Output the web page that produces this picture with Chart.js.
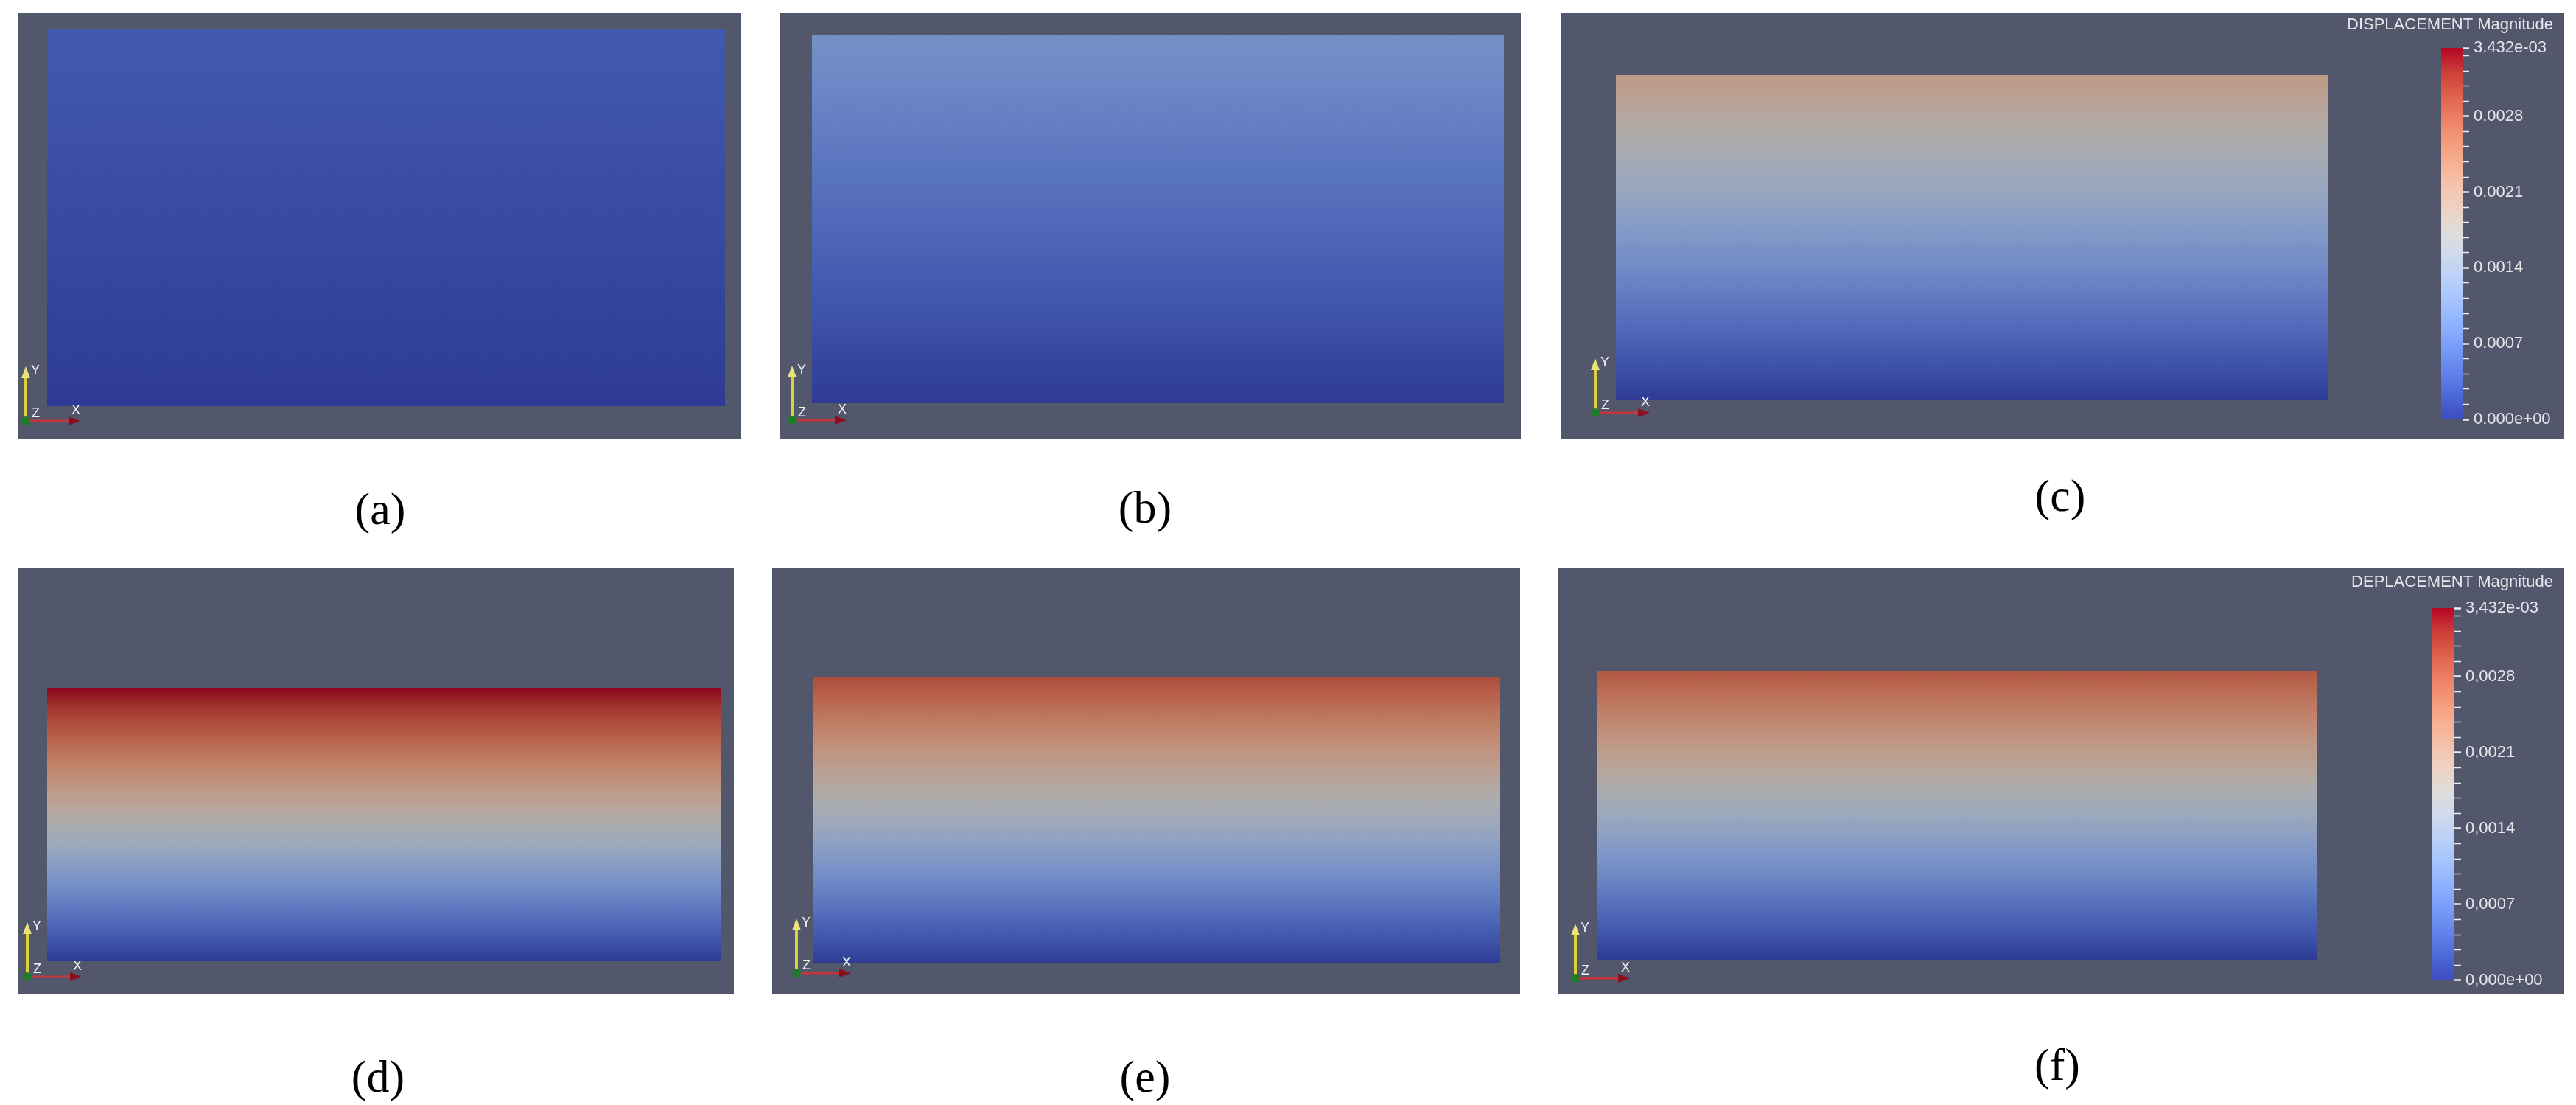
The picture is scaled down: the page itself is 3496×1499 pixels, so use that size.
<!DOCTYPE html>
<html lang="en">
<head>
<meta charset="UTF-8" />
<title>Displacement magnitude</title>
<script src="https://cdn.jsdelivr.net/npm/chart.js"></script>
<style>
  html, body { margin: 0; padding: 0; background: #fff; }
  body { position: relative; width: 3496px; height: 1499px; overflow: hidden; }
  .box { position: absolute; background: #53576c; }
  canvas { position: absolute; }
  .cap { position: absolute; transform: translate(-50%, -50%); font-family: 'Liberation Serif', 'Times New Roman', serif; font-size: 62px; line-height: 1; color: #000; white-space: nowrap; }
</style>
</head>
<body>
<script>
// ---- data ----
const panelLabels = ['(a)', '(b)', '(c)', '(d)', '(e)', '(f)'];
// displacement magnitude at the top face of the block, per stage
const topDisplacement = [0.00030, 0.00096, 0.00215, 0.003432, 0.00300, 0.00290];
const beamX = [0, 1];        // block length (normalised)
const beamY = [0, 1];        // block bottom / top (normalised)
const dispMax = 0.003432;    // colour scale range 0 .. max
const barTicks = [0, 0.0007, 0.0014, 0.0021, 0.0028, 0.003432];
const barLabelsEN = ['0.000e+00', '0.0007', '0.0014', '0.0021', '0.0028', '3.432e-03'];
const barLabelsFR = ['0,000e+00', '0,0007', '0,0014', '0,0021', '0,0028', '3,432e-03'];
const barTitles = ['DISPLACEMENT Magnitude', 'DEPLACEMENT Magnitude'];
const minorStep = 0.00014;

// ---- layout (pixels) ----
const panels = [
  { box: [25, 18, 1005, 596],   rect: [64, 39, 984, 551],     triad: [10, 25], cap: [516, 690] },
  { box: [1058, 18, 2064, 596], rect: [1102, 48, 2041, 547],  triad: [17, 26], cap: [1554, 688] },
  { box: [2118, 18, 3480, 596], rect: [2193, 102, 3160, 543], triad: [47, 36], cap: [2796, 672] },
  { box: [25, 770, 996, 1349],  rect: [64, 933, 978, 1303],   triad: [12, 24], cap: [513, 1460] },
  { box: [1048, 770, 2063, 1349], rect: [1103, 918, 2036, 1307], triad: [33, 29], cap: [1554, 1460] },
  { box: [2114, 770, 3480, 1349], rect: [2168, 910, 3144, 1302], triad: [24, 22], cap: [2792, 1444] }
];
const colorbars = [
  { canvas: [3170, 18, 3480, 596],  bar: [3313, 65, 3342, 569],   labels: barLabelsEN, title: barTitles[0], titleY: 34 },
  { canvas: [3157, 770, 3480, 1349], bar: [3300, 825, 3331, 1335], labels: barLabelsFR, title: barTitles[1], titleY: 790 }
];

// ParaView "Cool to Warm"
const coolWarm = [
  [59, 76, 192], [77, 104, 215], [98, 130, 234], [119, 154, 247], [141, 176, 254],
  [163, 194, 255], [184, 208, 249], [204, 217, 238], [221, 221, 221], [236, 211, 197],
  [245, 196, 173], [247, 177, 148], [244, 154, 123], [236, 127, 99], [222, 96, 77],
  [203, 62, 56], [180, 4, 38]
];
const surfaceShade = 0.78;
const legendFont = '"Liberation Sans", Arial, sans-serif';

function cmap(s, shade) {
  s = Math.max(0, Math.min(1, s));
  const f = s * (coolWarm.length - 1);
  const i = Math.min(coolWarm.length - 2, Math.floor(f));
  const t = f - i;
  const c = coolWarm[i].map((v, k) => (v + (coolWarm[i + 1][k] - v) * t) * shade);
  return `rgb(${Math.round(c[0])},${Math.round(c[1])},${Math.round(c[2])})`;
}

function addCanvas(l, t, r, b) {
  const cv = document.createElement('canvas');
  cv.width = r - l; cv.height = b - t;
  cv.style.left = l + 'px'; cv.style.top = t + 'px';
  document.body.appendChild(cv);
  return cv;
}

// small XYZ orientation triad in the corner of each view
const triadPlugin = {
  id: 'triad',
  afterDraw(chart, args, opts) {
    const ctx = chart.ctx;
    const ox = opts.dx, oy = chart.height - opts.dy;
    ctx.save();
    ctx.lineCap = 'round';
    ctx.strokeStyle = '#d9d23a'; ctx.lineWidth = 4;
    ctx.beginPath(); ctx.moveTo(ox, oy); ctx.lineTo(ox, oy - 62); ctx.stroke();
    ctx.fillStyle = '#e8e47a';
    ctx.beginPath(); ctx.moveTo(ox - 6, oy - 58); ctx.lineTo(ox + 6, oy - 58); ctx.lineTo(ox, oy - 74); ctx.closePath(); ctx.fill();
    ctx.strokeStyle = '#c8343c'; ctx.lineWidth = 3;
    ctx.beginPath(); ctx.moveTo(ox, oy); ctx.lineTo(ox + 62, oy); ctx.stroke();
    ctx.fillStyle = '#8a1020';
    ctx.beginPath(); ctx.moveTo(ox + 58, oy - 6); ctx.lineTo(ox + 58, oy + 6); ctx.lineTo(ox + 74, oy); ctx.closePath(); ctx.fill();
    ctx.fillStyle = '#1f7a2a';
    ctx.beginPath(); ctx.arc(ox, oy, 6, 0, Math.PI * 2); ctx.fill();
    ctx.fillStyle = '#f4f4f4';
    ctx.font = '18px "Liberation Sans", Arial, sans-serif';
    ctx.textBaseline = 'middle';
    ctx.fillText('Y', ox + 7, oy - 68);
    ctx.fillText('Z', ox + 8, oy - 10);
    ctx.fillText('X', ox + 62, oy - 14);
    ctx.restore();
  }
};

// legend title, right-aligned above the colour bar
const barTitlePlugin = {
  id: 'barTitle',
  afterDraw(chart, args, opts) {
    const ctx = chart.ctx;
    ctx.save();
    ctx.fillStyle = '#e6e6ea';
    ctx.font = `${opts.size}px ${legendFont}`;
    ctx.textAlign = 'right';
    ctx.textBaseline = 'middle';
    ctx.fillText(opts.text, chart.width - opts.right, opts.y);
    ctx.restore();
  }
};

// ---- the six deformed-block views ----
panels.forEach((p, i) => {
  const [bl, bt, br, bb] = p.box;
  const [rl, rt, rr, rb] = p.rect;
  const box = document.createElement('div');
  box.className = 'box';
  box.style.left = bl + 'px'; box.style.top = bt + 'px';
  box.style.width = (br - bl) + 'px'; box.style.height = (bb - bt) + 'px';
  document.body.appendChild(box);

  // camera: scale window so that the block lands on its rectangle
  const ux = (beamX[1] - beamX[0]) / (rr - rl);
  const uy = (beamY[1] - beamY[0]) / (rb - rt);
  const xMin = beamX[0] - (rl - bl) * ux, xMax = beamX[1] + (br - rr) * ux;
  const yMin = beamY[0] - (bb - rb) * uy, yMax = beamY[1] + (rt - bt) * uy;

  const cv = addCanvas(bl, bt, br, bb);
  new Chart(cv.getContext('2d'), {
    type: 'line',
    data: {
      datasets: [{
        data: beamX.map(x => ({ x, y: beamY[1] })),
        fill: { value: beamY[0] },
        pointRadius: 0,
        borderWidth: 0,
        borderColor: 'rgba(0,0,0,0)',
        tension: 0,
        backgroundColor: (c) => {
          const { chart } = c;
          if (!chart.chartArea) return 'rgba(0,0,0,0)';
          const y0 = chart.scales.y.getPixelForValue(beamY[0]);
          const y1 = chart.scales.y.getPixelForValue(beamY[1]);
          const g = chart.ctx.createLinearGradient(0, y0, 0, y1);
          for (let k = 0; k <= 16; k++) {
            const v = topDisplacement[i] * k / 16;
            g.addColorStop(k / 16, cmap(v / dispMax, surfaceShade));
          }
          return g;
        }
      }]
    },
    options: {
      responsive: false,
      animation: false,
      events: [],
      layout: { padding: 0 },
      plugins: { legend: { display: false }, tooltip: { enabled: false }, triad: { dx: p.triad[0], dy: p.triad[1] } },
      scales: {
        x: { type: 'linear', display: false, min: xMin, max: xMax },
        y: { type: 'linear', display: false, min: yMin, max: yMax }
      }
    },
    plugins: [triadPlugin]
  });

  const cap = document.createElement('div');
  cap.className = 'cap';
  cap.textContent = panelLabels[i];
  cap.style.left = p.cap[0] + 'px'; cap.style.top = p.cap[1] + 'px';
  document.body.appendChild(cap);
});

// ---- colour legends for (c) and (f) ----
const tickValues = [];
for (let v = 0; v < dispMax - 1e-9; v += minorStep) tickValues.push(v);
tickValues.push(dispMax);
const isMajor = v => barTicks.some(t => Math.abs(t - v) < 1e-9);

colorbars.forEach(cb => {
  const [cl, ct, cr, cbm] = cb.canvas;
  const [xl, yt, xr, yb] = cb.bar;
  const W = cr - cl;
  const padL = xl - cl, padR = 15;
  const axisW = W - padL - padR - (xr - xl);
  const fontSize = 22;

  const cv = addCanvas(cl, ct, cr, cbm);
  new Chart(cv.getContext('2d'), {
    type: 'bar',
    data: {
      labels: [''],
      datasets: [{
        data: [dispMax],
        barPercentage: 1,
        categoryPercentage: 1,
        borderWidth: 0,
        backgroundColor: (c) => {
          const { chart } = c;
          if (!chart.chartArea) return 'rgba(0,0,0,0)';
          const y0 = chart.scales.y.getPixelForValue(0);
          const y1 = chart.scales.y.getPixelForValue(dispMax);
          const g = chart.ctx.createLinearGradient(0, y0, 0, y1);
          coolWarm.forEach((c3, k) => g.addColorStop(k / (coolWarm.length - 1), cmap(k / (coolWarm.length - 1), 1)));
          return g;
        }
      }]
    },
    options: {
      responsive: false,
      animation: false,
      events: [],
      layout: { padding: { left: padL, right: padR, top: yt - ct, bottom: cbm - yb } },
      plugins: {
        legend: { display: false },
        tooltip: { enabled: false },
        barTitle: { text: cb.title, size: fontSize, right: padR, y: cb.titleY - ct }
      },
      scales: {
        x: { display: false },
        y: {
          position: 'right', min: 0, max: dispMax,
          border: { display: false },
          grid: {
            drawOnChartArea: false, drawTicks: true, tickLength: 9,
            tickColor: '#eeeeee',
            tickWidth: (c) => (c.tick && isMajor(c.tick.value)) ? 2.5 : 1.5
          },
          ticks: {
            autoSkip: false, padding: 6, color: '#e6e6ea',
            font: { family: legendFont, size: fontSize },
            callback: (v) => {
              const k = barTicks.findIndex(t => Math.abs(t - v) < 1e-9);
              return k >= 0 ? cb.labels[k] : '';
            }
          },
          afterBuildTicks: (axis) => { axis.ticks = tickValues.map(v => ({ value: v })); },
          afterFit: (s) => { s.width = axisW; }
        }
      }
    },
    plugins: [barTitlePlugin]
  });
});
</script>
</body>
</html>
